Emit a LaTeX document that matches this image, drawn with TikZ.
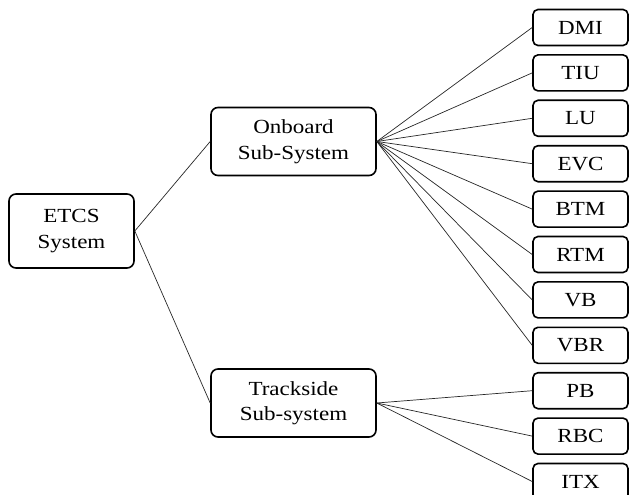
\documentclass[tikz,border=0pt]{standalone}
\usepackage{fontspec}
\setmainfont{Liberation Serif}[FakeStretch=1.15]
\tikzstyle{every node}=[draw, rounded corners=7pt, line width=1.6pt, align=center, font=\fontsize{20}{25.5}\selectfont]
\tikzstyle{bigbox}=[minimum width=125pt, minimum height=74pt]
\tikzstyle{subbox}=[minimum width=165pt, minimum height=68pt]
\tikzstyle{leafbox}=[rounded corners=5pt, minimum width=95pt, minimum height=36pt]
\tikzstyle{link}=[black!85, line width=0.7pt]

\begin{document}
\begin{tikzpicture}[x=1pt, y=-1pt]
    \useasboundingbox (0,0) rectangle (630,495);
% Top level
    \node[bigbox] (etcs) at (71.5,231) {ETCS\\System};
% Sub-systems
    \node[subbox] (onboard) at (293.5,141.5) {Onboard\\Sub-System};
    \node[subbox] (trackside) at (293.5,403) {Trackside\\Sub-system};
% Onboard parts
    \node[leafbox] (dmi) at (580.5,27.5) {DMI};
    \node[leafbox] (tiu) at (580.5,72.9) {TIU};
    \node[leafbox] (lu) at (580.5,118.3) {LU};
    \node[leafbox] (evc) at (580.5,163.7) {EVC};
    \node[leafbox] (btm) at (580.5,209.1) {BTM};
    \node[leafbox] (rtm) at (580.5,254.5) {RTM};
    \node[leafbox] (vb) at (580.5,299.9) {VB};
    \node[leafbox] (vbr) at (580.5,345.3) {VBR};
% Trackside parts
    \node[leafbox] (pb) at (580.5,390.7) {PB};
    \node[leafbox] (rbc) at (580.5,436.1) {RBC};
    \node[leafbox] (itx) at (580.5,481.5) {ITX};
% Links from the system
    \draw[link] (etcs.east) -- (onboard.west);
    \draw[link] (etcs.east) -- (trackside.west);
% Links from onboard
    \draw[link] (onboard.east) -- (dmi.west);
    \draw[link] (onboard.east) -- (tiu.west);
    \draw[link] (onboard.east) -- (lu.west);
    \draw[link] (onboard.east) -- (evc.west);
    \draw[link] (onboard.east) -- (btm.west);
    \draw[link] (onboard.east) -- (rtm.west);
    \draw[link] (onboard.east) -- (vb.west);
    \draw[link] (onboard.east) -- (vbr.west);
% Links from trackside
    \draw[link] (trackside.east) -- (pb.west);
    \draw[link] (trackside.east) -- (rbc.west);
    \draw[link] (trackside.east) -- (itx.west);
\end{tikzpicture}
\end{document}
